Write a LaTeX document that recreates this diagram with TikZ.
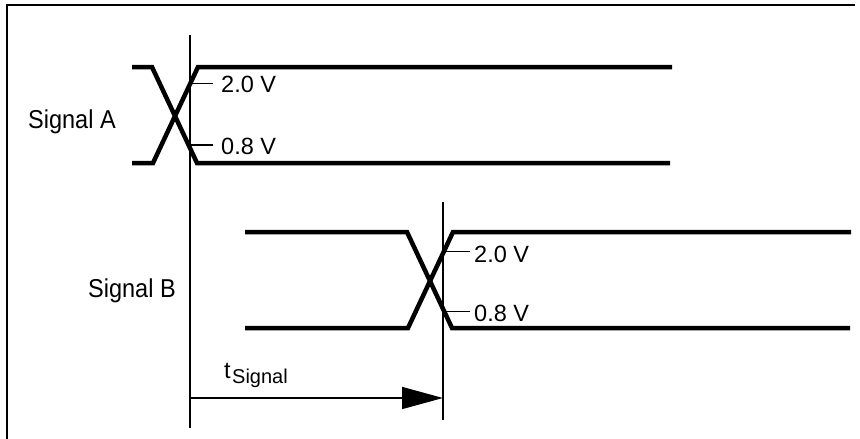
\documentclass[tikz,border=0pt]{standalone}
\usepackage{fontspec}
\setmainfont{Liberation Sans}
\usetikzlibrary{arrows.meta}
\begin{document}
\begin{tikzpicture}[x=1pt,y=-1pt,
  sig/.style={line width=4.5pt,line join=miter,line cap=butt},
  guide/.style={line width=1.3pt},
  lbl/.style={inner sep=0pt,anchor=base west,font=\fontsize{23.5}{28}\selectfont},
  frameline/.style={line width=1.5pt}]
\useasboundingbox (0,0) rectangle (860,439);
% frame
\coordinate (fbl) at (7,439);
\coordinate (ftl) at (7,5);
\coordinate (ftr) at (855,5);
\draw[frameline] (fbl) -- (ftl) -- (ftr);
% Signal A
\coordinate (a1) at (132,67);
\coordinate (a2) at (152,67);
\coordinate (a3) at (197,163);
\coordinate (a4) at (670,163);
\coordinate (a5) at (132,163);
\coordinate (a6) at (153,163);
\coordinate (a7) at (198,67);
\coordinate (a8) at (672,67);
\draw[sig] (a1) -- (a2) -- (a3) -- (a4);
\draw[sig] (a5) -- (a6) -- (a7) -- (a8);
\coordinate (va1) at (190,35);
\coordinate (va2) at (190,428);
\draw[guide] (va1) -- (va2);
\coordinate (ta1) at (190,83.3);
\coordinate (ta2) at (213,83.3);
\coordinate (ta3) at (189,145);
\coordinate (ta4) at (213,145);
\draw[guide] (ta1) -- (ta2);
\draw[guide] (ta3) -- (ta4);
\node[lbl] (sa) at (28,128) {\scalebox{1}[1.1]{Signal A}};
\node[lbl] (a20) at (221,92) {2.0 V};
\node[lbl] (a08) at (221,154) {0.8 V};
% Signal B
\coordinate (b1) at (245,232);
\coordinate (b2) at (407,232);
\coordinate (b3) at (452,328);
\coordinate (b4) at (850,328);
\coordinate (b5) at (245,328);
\coordinate (b6) at (408,328);
\coordinate (b7) at (453,232);
\coordinate (b8) at (851,232);
\draw[sig] (b1) -- (b2) -- (b3) -- (b4);
\draw[sig] (b5) -- (b6) -- (b7) -- (b8);
\coordinate (vb1) at (443,202);
\coordinate (vb2) at (443,420);
\draw[guide] (vb1) -- (vb2);
\coordinate (tb1) at (442,251.7);
\coordinate (tb2) at (470,251.7);
\coordinate (tb3) at (442,311.7);
\coordinate (tb4) at (470,311.7);
\draw[guide] (tb1) -- (tb2);
\draw[guide] (tb3) -- (tb4);
\node[lbl] (sb) at (88,297) {\scalebox{1}[1.1]{Signal B}};
\node[lbl] (b20) at (474,262) {2.0 V};
\node[lbl] (b08) at (474,321) {0.8 V};
% timing arrow
\coordinate (ar1) at (190,398);
\coordinate (ar2) at (443,398);
\draw[line width=1.5pt,-{Triangle[length=41pt,width=22pt]}] (ar1) -- (ar2);
\node[lbl] (tt) at (224,378) {t};
\node[inner sep=0pt,anchor=base west,font=\fontsize{20}{24}\selectfont] (ts) at (232,383) {Signal};
\end{tikzpicture}
\end{document}
